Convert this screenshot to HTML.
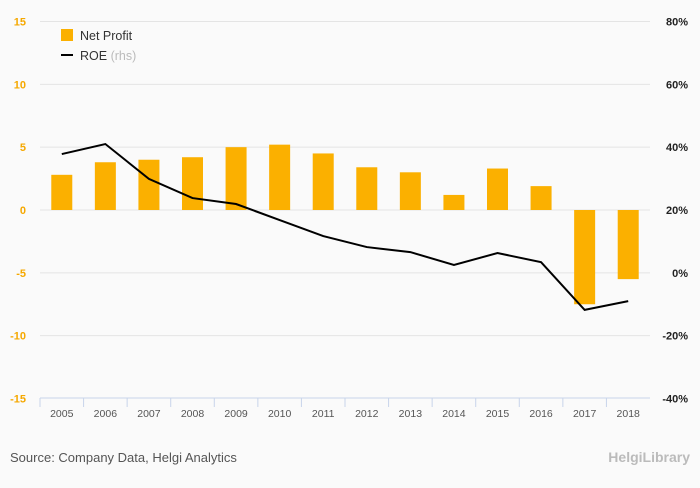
<!DOCTYPE html>
<html><head><meta charset="utf-8"><style>
body{margin:0;background:#fafafa;font-family:"Liberation Sans",sans-serif}
svg text{font-family:"Liberation Sans",sans-serif}
</style></head><body>
<svg id="c" width="700" height="483">
<rect width="700" height="483" fill="#fafafa"/>
<g id="grid"></g><g id="bars"></g><g id="line"></g><g id="axes"></g>
<g>
<rect x="61" y="29" width="12" height="12" fill="#fbb000"/>
<text x="80" y="40" font-size="12.5" fill="#333">Net Profit</text>
<rect x="61" y="54" width="12" height="2" fill="#000"/>
<text x="80" y="60" font-size="12.5" fill="#333">ROE <tspan fill="#bbb">(rhs)</tspan></text>
</g>
<text x="10" y="462" font-size="13" fill="#555">Source: Company Data, Helgi Analytics</text>
<text x="690" y="462" font-size="14" fill="#bbb" text-anchor="end" font-weight="bold">HelgiLibrary</text>
</svg>
<script>
const years=["2005","2006","2007","2008","2009","2010","2011","2012","2013","2014","2015","2016","2017","2018"];
const profit=[2.8,3.8,4.0,4.2,5.0,5.2,4.5,3.4,3.0,1.2,3.3,1.9,-7.5,-5.5];
const roe=[37.8,41,29.9,23.8,21.9,16.8,11.7,8.2,6.6,2.5,6.3,3.4,-11.8,-9];
const leftTicks=[15,10,5,0,-5,-10,-15];
const rightTicks=["80%","60%","40%","20%","0%","-20%","-40%"];
const ns="http://www.w3.org/2000/svg";
const X0=40,X1=650,bw=(X1-X0)/years.length;
const yL=v=>210-v*12.567;
const yR=v=>210-(v-20)*3.1417;
const xc=i=>X0+bw*(i+0.5);
function mk(p,t,a){const e=document.createElementNS(ns,t);for(const k in a)e.setAttribute(k,a[k]);document.getElementById(p).appendChild(e);return e;}
leftTicks.forEach((v,i)=>{
 const y=yL(v);
 if(v!==-15){const g=mk('grid','line',{x1:X0,x2:X1,y1:y,y2:y,stroke:'#e4e4e4'});
 
 }
 const t=mk('axes','text',{x:26,y:y+4,'font-size':11,fill:'#f5a800','text-anchor':'end','font-weight':'bold'});t.textContent=v;
 
 
 const r=mk('axes','text',{x:688,y:y+4,'font-size':11,fill:'#222','text-anchor':'end','font-weight':'bold'});r.textContent=rightTicks[i];
 
 
});
const ax=mk('axes','line',{x1:X0,x2:X1,y1:398,y2:398,stroke:'#c8d4ea'});


years.forEach((yr,i)=>{
 const tk=mk('axes','line',{x1:X0+bw*i,x2:X0+bw*i,y1:398,y2:407,stroke:'#c8d4ea'});
 
 
 const t=mk('axes','text',{x:xc(i),y:417,'font-size':10.5,fill:'#555','text-anchor':'middle'});t.textContent=yr;
 
 
 const v=profit[i],y0=yL(0),y1=yL(v);
 const b=mk('bars','rect',{x:xc(i)-10.5,width:21,y:Math.min(y0,y1),height:Math.abs(y1-y0),fill:'#fbb000'});
 
 
});
const l=mk('line','polyline',{points:roe.map((v,i)=>xc(i)+','+yR(v)).join(' '),fill:'none',stroke:'#000','stroke-width':2});


</script>
</body></html>
